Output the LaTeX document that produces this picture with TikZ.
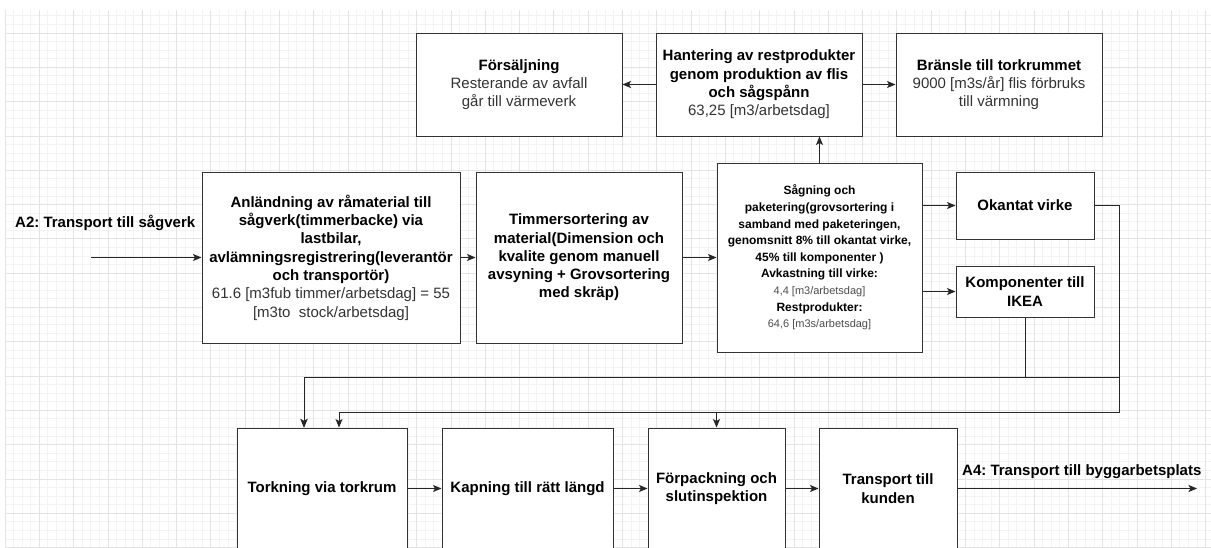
\documentclass[tikz,border=0pt]{standalone}
\usepackage{fontspec}
\setmainfont{Liberation Sans}
\frenchspacing
\usetikzlibrary{arrows.meta}
\definecolor{gridminor}{HTML}{F3F3F3}
\definecolor{gridmajor}{HTML}{E4E4E4}
\definecolor{boxline}{HTML}{333333}
\definecolor{valtext}{HTML}{333333}
\definecolor{smalltext}{HTML}{4D4D4D}
\tikzset{
  pbox/.style={draw=boxline, line width=1pt, fill=white, inner sep=0pt, align=center, font=\fontsize{15}{18.3}\selectfont},
  conn/.style={draw=black!85, line width=0.9pt, -{Stealth[length=8.5pt,width=7pt,inset=2pt]}},
  lab/.style={font=\fontsize{15}{18.3}\selectfont\bfseries, inner sep=0pt},
  gmin/.style={draw=gridminor, line width=0.8pt},
  gmaj/.style={draw=gridmajor, line width=0.8pt},
}
\begin{document}
\begin{tikzpicture}[x=1pt,y=-1pt]
\useasboundingbox (0,0) rectangle (1211,547);
\clip (0,0) rectangle (1211,547);
\fill[white] (0,0) rectangle (1211,547);
% grid
\begin{scope}
\clip (5,10) rectangle (1211,547);
\foreach \i [evaluate=\i as \xx using 5+\i*8.575] in {0,...,141}
  \draw[gmin] (\xx,10) -- (\xx,547);
\foreach \j [evaluate=\j as \yy using 15.85+\j*8.575] in {0,...,63}
  \draw[gmin] (5,\yy) -- (1211,\yy);
\foreach \i [evaluate=\i as \xx using 5+\i*34.3] in {0,...,35}
  \draw[gmaj] (\xx,10) -- (\xx,547);
\foreach \j [evaluate=\j as \yy using 33+\j*34.3] in {0,...,15}
  \draw[gmaj] (5,\yy) -- (1211,\yy);
\end{scope}

% top row
\node[pbox, minimum width=206pt, minimum height=103pt] (for) at (519,84.5)
  {\textbf{Försäljning}\\\color{valtext}Resterande av avfall\\\color{valtext}går till värmeverk};
\node[pbox, minimum width=206pt, minimum height=103pt] (han) at (759,84.5)
  {\textbf{Hantering av restprodukter}\\\textbf{genom produktion av flis}\\\textbf{och sågspånn}\\\color{valtext}63,25 [m3/arbetsdag]};
\node[pbox, minimum width=206pt, minimum height=103pt] (bra) at (999,84.5)
  {\textbf{Bränsle till torkrummet}\\\color{valtext}9000 [m3s/år] flis förbruks\\\color{valtext}till värmning};

% middle row
\node[pbox, minimum width=258pt, minimum height=171pt] (anl) at (331,257.5)
  {\textbf{Anländning av råmaterial till}\\\textbf{sågverk(timmerbacke) via}\\\textbf{lastbilar,}\\\textbf{avlämningsregistrering(leverantör}\\\textbf{och transportör)}\\\color{valtext}61.6 [m3fub timmer/arbetsdag] = 55\\\color{valtext}[m3to\ \ stock/arbetsdag]};
\node[pbox, minimum width=206pt, minimum height=171pt] (tim) at (579,257.5)
  {\textbf{Timmersortering av}\\\textbf{material(Dimension och}\\\textbf{kvalite genom manuell}\\\textbf{avsyning + Grovsortering}\\\textbf{med skräp)}};
\node[pbox, minimum width=205pt, minimum height=189pt, font=\fontsize{12}{16.6}\selectfont] (sag) at (819.5,257.5)
  {\textbf{Sågning och}\\\textbf{paketering(grovsortering i}\\\textbf{samband med paketeringen,}\\\textbf{genomsnitt 8\% till okantat virke,}\\\textbf{45\% till komponenter )}\\\textbf{Avkastning till virke:}\\{\fontsize{11}{16.6}\selectfont\color{smalltext}4,4 [m3/arbetsdag]}\\\textbf{Restprodukter:}\\{\fontsize{11}{16.6}\selectfont\color{smalltext}64,6 [m3s/arbetsdag]}};
\node[pbox, minimum width=138pt, minimum height=67pt] (ok) at (1025,205.5)
  {\textbf{Okantat virke}};
\node[pbox, minimum width=138pt, minimum height=51pt] (kom) at (1025,291.5)
  {\textbf{Komponenter till}\\\textbf{IKEA}};

% bottom row
\node[pbox, minimum width=170pt, minimum height=121pt] (tork) at (322,488.5)
  {\textbf{Torkning via torkrum}};
\node[pbox, minimum width=171pt, minimum height=121pt] (kap) at (527.5,488.5)
  {\textbf{Kapning till rätt längd}};
\node[pbox, minimum width=137pt, minimum height=121pt] (forp) at (716.5,488.5)
  {\textbf{Förpackning och}\\\textbf{slutinspektion}};
\node[pbox, minimum width=138pt, minimum height=121pt] (trans) at (888,488.5)
  {\textbf{Transport till}\\\textbf{kunden}};

% labels
\node[lab, anchor=west] (a2) at (15,223) {A2: Transport till sågverk};
\node[lab, anchor=west] (a4) at (962,472) {A4: Transport till byggarbetsplats};

% coordinates
\coordinate (in) at (91,257.5);
\coordinate (out) at (1197,488.5);
\coordinate (r1) at (1119,377);
\coordinate (r2) at (1119,412);
\coordinate (tk1) at (304,377);
\coordinate (tk2) at (339,412);

% connectors
\draw[conn] (in) -- (anl.west);
\draw[conn] (anl) -- (tim);
\draw[conn] (tim) -- (sag);
\draw[conn] (sag.east |- ok.west) -- (ok.west);
\draw[conn] (sag.east |- kom.west) -- (kom.west);
\draw[conn] (sag.north) -- (sag.north |- han.south);
\draw[conn] (han.west) -- (for.east);
\draw[conn] (han.east) -- (bra.west);
\draw[conn] (kom.south) -- (kom.south |- r1) -- (tk1) -- (tk1 |- tork.north);
\draw[conn] (ok.east) -| (r1) -- (tk1) -- (tk1 |- tork.north);
\draw[conn] (ok.east) -| (r2) -- (tk2) -- (tk2 |- tork.north);
\draw[conn] (r2) -- (forp.north |- r2) -- (forp.north);
\draw[conn] (tork) -- (kap);
\draw[conn] (kap) -- (forp);
\draw[conn] (forp) -- (trans);
\draw[conn] (trans.east) -- (out);
\end{tikzpicture}
\end{document}
